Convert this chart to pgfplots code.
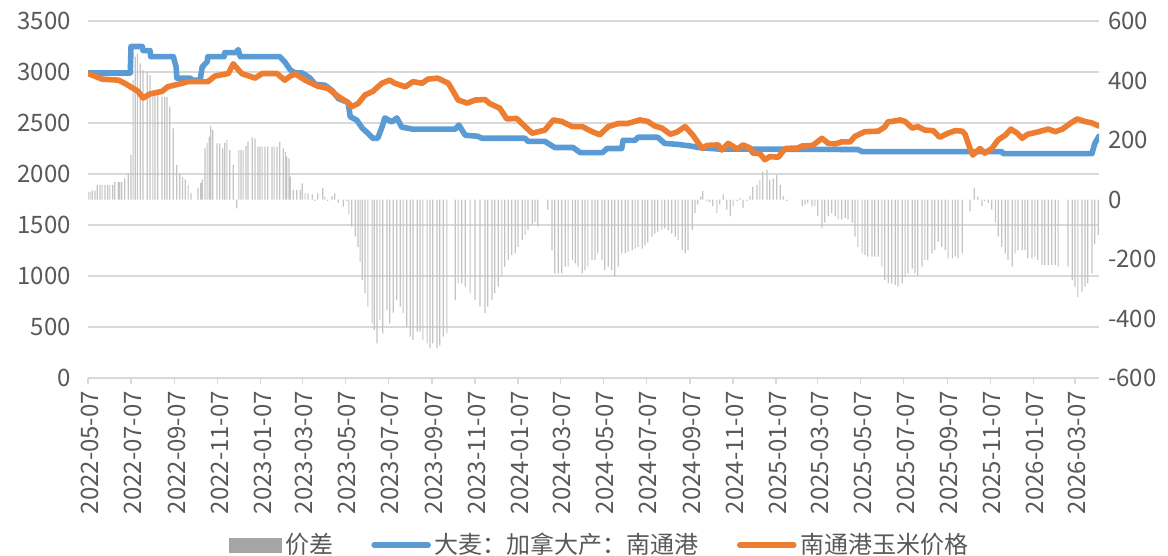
\documentclass[border=0pt]{standalone}
\usepackage{pgfplots}
\pgfplotsset{compat=1.18}
\usepackage{fontspec}
\setmainfont{Noto Sans CJK SC}
\definecolor{cblue}{HTML}{5B9BD5}
\definecolor{corange}{HTML}{ED7D31}
\definecolor{cgrey}{HTML}{A5A5A5}
\definecolor{cbar}{HTML}{C4C4C4}
\definecolor{cgrid}{HTML}{D9D9D9}
\definecolor{ctext}{HTML}{595959}

\pgfplotstableread{
d v
0 26
3 26
6 30
10 30
13 49
17 49
20 49
24 49
28 49
31 49
35 49
38 58
43 58
45 58
48 58
52 71
57 88
61 150
64 402
67 480
70 491
74 458
78 435
84 430
88 418
92 362
95 362
99 362
105 345
109 345
112 345
116 312
121 239
126 116
130 88
134 75
138 68
142 49
146 21
156 38
160 55
162 68
166 172
169 190
172 211
174 247
177 234
183 189
187 189
191 172
194 190
197 200
201 166
206 116
211 -30
214 166
217 166
220 166
224 180
227 194
233 209
237 205
241 178
244 178
247 178
251 178
255 178
261 178
264 178
268 178
272 194
277 172
280 160
282 144
285 138
287 77
291 32
296 32
301 32
304 54
308 21
312 21
318 17
322 -5
326 21
333 38
336 10
340 -5
346 11
350 21
355 -11
362 -24
367 -5
370 -50
374 -91
379 -125
383 -159
386 -210
389 -271
393 -315
397 -360
403 -416
406 -439
410 -484
414 -405
418 -450
424 -371
428 -416
433 -380
438 -338
443 -360
447 -382
452 -427
457 -461
461 -472
467 -444
471 -444
475 -472
481 -484
485 -500
489 -484
495 -500
499 -490
504 -461
509 -450
521 -338
525 -282
530 -282
535 -293
542 -315
549 -338
556 -360
563 -382
567 -360
573 -338
577 -315
582 -293
587 -259
591 -226
596 -203
601 -187
606 -181
610 -159
616 -136
620 -119
624 -103
630 -86
634 -75
638 -91
652 -34
658 -170
662 -248
667 -248
672 -248
677 -226
681 -226
687 -203
691 -215
695 -226
701 -248
705 -237
709 -226
715 -203
719 -203
723 -181
729 -203
733 -237
738 -226
743 -237
747 -259
752 -226
757 -181
762 -181
766 -175
772 -170
776 -165
780 -159
786 -165
790 -155
794 -145
800 -125
804 -115
808 -108
814 -103
818 -97
823 -103
828 -115
833 -125
837 -136
843 -170
847 -181
851 -170
857 -103
861 -45
865 -17
869 10
872 28
878 -5
882 -10
886 -22
892 -45
896 -17
901 17
906 -34
911 -56
915 -22
921 -5
925 5
929 -28
935 -5
939 11
943 43
949 49
953 66
957 93
963 99
967 66
972 70
977 82
982 49
986 11
991 -5
1013 -22
1017 -17
1021 -12
1027 -22
1031 -22
1035 -56
1041 -95
1045 -78
1050 -56
1055 -45
1060 -56
1064 -67
1069 -67
1074 -62
1078 -67
1084 -78
1088 -125
1092 -159
1098 -181
1102 -186
1106 -192
1112 -192
1116 -192
1121 -192
1126 -226
1130 -271
1135 -282
1140 -282
1145 -287
1149 -293
1155 -282
1159 -259
1163 -248
1169 -232
1173 -248
1177 -254
1183 -226
1187 -203
1191 -203
1197 -181
1201 -170
1206 -142
1211 -159
1216 -170
1220 -198
1226 -198
1230 -192
1234 -198
1240 -181
1251 -39
1257 38
1262 10
1268 -22
1272 -5
1277 -11
1282 -34
1287 -78
1291 -125
1296 -159
1301 -181
1305 -203
1311 -226
1315 -181
1319 -170
1325 -170
1329 -170
1333 -198
1339 -198
1343 -192
1347 -203
1353 -220
1357 -220
1362 -220
1367 -220
1372 -220
1376 -226
1390 -226
1396 -271
1400 -293
1404 -327
1410 -310
1414 -293
1418 -282
1424 -248
1428 -150
1433 -120
}\bardata

\pgfplotstableread{
d v
0 2990
60 2990
61 3250
77 3250
78 3210
88 3210
89 3150
121 3150
125 3050
126 2940
145 2940
148 2920
159 2920
162 3050
169 3100
170 3150
193 3150
194 3190
210 3190
213 3220
216 3150
272 3150
279 3100
287 3020
294 2990
304 2990
315 2940
322 2880
336 2870
346 2820
355 2740
369 2700
372 2560
381 2530
389 2450
397 2400
404 2350
411 2350
417 2460
421 2550
431 2510
438 2550
445 2460
460 2440
521 2440
526 2480
535 2380
553 2370
559 2350
620 2350
624 2320
648 2320
662 2260
688 2260
698 2210
730 2210
736 2250
757 2250
759 2330
776 2330
780 2360
808 2360
818 2300
837 2290
854 2275
868 2258
894 2245
1092 2240
1098 2220
1296 2220
1298 2200
1424 2200
1428 2300
1434 2370
}\bluedata

\pgfplotstableread{
d v
0 2985
20 2930
43 2920
52 2890
64 2840
71 2810
78 2745
88 2785
105 2810
113 2855
128 2880
142 2905
170 2905
180 2960
199 2985
206 3080
218 2985
237 2940
247 2985
268 2985
279 2920
287 2960
294 2980
308 2920
326 2860
340 2840
355 2760
369 2700
374 2660
383 2690
393 2775
404 2810
417 2890
428 2920
435 2890
450 2855
461 2905
474 2890
482 2930
496 2940
511 2890
518 2810
525 2725
538 2695
549 2725
563 2730
570 2690
584 2645
594 2540
608 2545
620 2465
630 2400
648 2430
660 2530
672 2515
687 2465
701 2465
715 2415
726 2385
738 2465
752 2495
765 2495
783 2530
794 2515
804 2470
814 2450
826 2390
835 2410
847 2465
858 2380
871 2252
878 2280
894 2285
899 2235
908 2300
921 2245
929 2285
939 2255
943 2205
953 2200
960 2140
967 2170
979 2165
989 2250
1007 2255
1013 2275
1028 2280
1041 2350
1050 2300
1060 2295
1069 2315
1081 2315
1088 2370
1102 2415
1121 2420
1130 2460
1135 2513
1140 2515
1152 2530
1159 2515
1169 2450
1177 2465
1187 2430
1199 2425
1208 2360
1220 2400
1230 2425
1240 2420
1244 2390
1251 2250
1255 2185
1265 2250
1272 2205
1282 2250
1291 2335
1301 2380
1309 2440
1318 2400
1325 2350
1333 2390
1346 2410
1362 2440
1372 2415
1382 2440
1393 2495
1403 2540
1414 2515
1424 2500
1434 2470
}\orangedata

\begin{document}
\begin{tikzpicture}
\useasboundingbox (0,0) rectangle (584pt,278pt);
\pgfplotsset{
  common/.style={
    at={(44pt,89pt)}, anchor=south west, scale only axis,
    width=505.5pt, height=178.5pt, xmin=0, xmax=1434,
    tick label style={font=\fontsize{12}{12}\selectfont, text=ctext},
  }
}
% base axis: grid, x ticks, left y labels
\begin{axis}[common,
  ymin=0, ymax=3500,
  axis line style={draw=none},
  ymajorgrids, grid style={color=cgrid, line width=0.7pt},
  ytick={0,500,1000,1500,2000,2500,3000,3500},
  yticklabels={0,500,1000,1500,2000,2500,3000,3500},
  ytick pos=left, ytick style={draw=none},
  yticklabel style={xshift=-5pt},
  xtick={0,61,123,184,245,304,365,426,488,549,610,670,731,792,854,915,976,1035,1096,1157,1219,1280,1341,1400},
  xticklabels={2022-05-07,2022-07-07,2022-09-07,2022-11-07,2023-01-07,2023-03-07,2023-05-07,2023-07-07,2023-09-07,2023-11-07,2024-01-07,2024-03-07,2024-05-07,2024-07-07,2024-09-07,2024-11-07,2025-01-07,2025-03-07,2025-05-07,2025-07-07,2025-09-07,2025-11-07,2026-01-07,2026-03-07},
  xtick pos=bottom, xtick align=outside, major tick length=3pt,
  xtick style={color=cgrid, line width=0.7pt},
  xticklabel style={rotate=90, anchor=east, yshift=-1pt},
]
\addplot[draw=none] coordinates {(0,0)};
\end{axis}
% right axis: bars
\begin{axis}[common,
  ymin=-600, ymax=600,
  axis x line=none, axis y line*=right,
  axis line style={draw=none},
  ytick={-600,-400,-200,0,200,400,600},
  yticklabels={-600,-400,-200,0,200,400,600},
  ytick style={draw=none},
  yticklabel style={xshift=1pt},
]
\addplot[ybar, bar width=0.6pt, fill=cbar, draw=none] table[x=d, y=v] {\bardata};
\end{axis}
% lines
\begin{axis}[common,
  ymin=0, ymax=3500, hide axis,
  legend columns=3,
  legend style={at={(0.507,-0.468)}, anchor=center, draw=none, fill=none,
    font=\fontsize{12}{14}\selectfont, text=ctext,
    /tikz/every even column/.append style={column sep=17pt}},
]
\addlegendimage{legend image code/.code={\fill[cgrey] (0pt,-3.5pt) rectangle (26pt,3.5pt);}}
\addlegendentry{价差}
\addplot[color=cblue, line width=2.8pt, line join=round, line cap=round,
  legend image code/.code={\draw[line width=2.8pt, line cap=round] (0pt,0pt) -- (27pt,0pt);}]
  table[x=d, y=v] {\bluedata};
\addlegendentry{大麦：加拿大产：南通港}
\addplot[color=corange, line width=2.8pt, line join=round, line cap=round,
  legend image code/.code={\draw[line width=2.8pt, line cap=round] (0pt,0pt) -- (27pt,0pt);}]
  table[x=d, y=v] {\orangedata};
\addlegendentry{南通港玉米价格}
\end{axis}
\end{tikzpicture}
\end{document}
